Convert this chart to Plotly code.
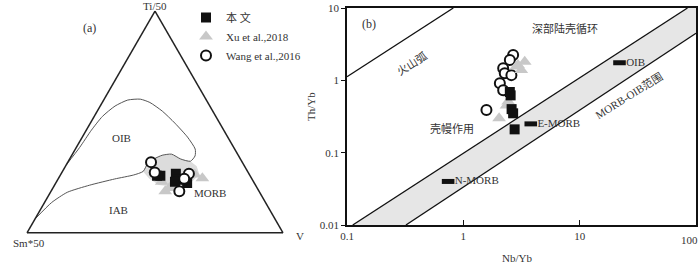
import plotly.graph_objects as go

# ---------------- Panel (a): Ti/50 - Sm*50 - V ternary ----------------
# sample compositions (fractions): Ti/50, Sm*50, V
a_sq_ti = [0.258, 0.258, 0.267, 0.239, 0.225, 0.230]
a_sq_sm = [0.350, 0.363, 0.285, 0.292, 0.262, 0.307]
a_sq_v = [0.392, 0.379, 0.448, 0.469, 0.513, 0.463]

a_tri_ti = [0.246, 0.188, 0.202, 0.230, 0.244, 0.263, 0.216]
a_tri_sm = [0.192, 0.366, 0.343, 0.359, 0.267, 0.213, 0.322]
a_tri_v = [0.562, 0.446, 0.455, 0.411, 0.489, 0.524, 0.462]

a_cir_ti = [0.319, 0.272, 0.267, 0.244, 0.188]
a_cir_sm = [0.356, 0.365, 0.234, 0.264, 0.311]
a_cir_v = [0.325, 0.363, 0.499, 0.492, 0.501]

# field boundary: OIB loop -> MORB top -> OIB/IAB line
bd_ti = [0.305, 0.385, 0.463, 0.525, 0.572, 0.599, 0.603, 0.588, 0.549, 0.495, 0.432, 0.378,
         0.347, 0.323, 0.333, 0.355, 0.350, 0.334, 0.315, 0.277, 0.261, 0.243, 0.215, 0.183,
         0.137, 0.062]
bd_sm = [0.695, 0.602, 0.517, 0.443, 0.370, 0.307, 0.256, 0.226, 0.197, 0.175, 0.157, 0.154,
         0.170, 0.200, 0.233, 0.258, 0.297, 0.336, 0.370, 0.408, 0.453, 0.536, 0.648, 0.751,
         0.835, 0.938]
bd_v = [0.000, 0.013, 0.020, 0.032, 0.058, 0.094, 0.141, 0.186, 0.254, 0.330, 0.411, 0.468,
        0.483, 0.477, 0.434, 0.387, 0.353, 0.330, 0.315, 0.315, 0.286, 0.221, 0.137, 0.066,
        0.028, 0.000]

# MORB field (grey)
morb_ti = [0.277, 0.315, 0.334, 0.350, 0.355, 0.333, 0.323, 0.300, 0.263, 0.230, 0.207, 0.216, 0.244]
morb_sm = [0.408, 0.370, 0.336, 0.297, 0.258, 0.233, 0.200, 0.187, 0.195, 0.241, 0.315, 0.377, 0.400]
morb_v = [0.315, 0.315, 0.330, 0.353, 0.387, 0.434, 0.477, 0.513, 0.542, 0.529, 0.478, 0.407, 0.356]

# ---------------- Panel (b): Th/Yb vs Nb/Yb ----------------
arc_nb = [0.1, 0.82]
arc_th = [1.12, 10]
upper_nb = [0.112, 84.5]
upper_th = [0.01, 10]
lower_nb = [0.321, 100]
lower_th = [0.01, 4.47]
x_max, y_max = 100, 10

ref_names = ["OIB", "E-MORB", "N-MORB"]
ref_nb = [22, 3.8, 0.74]
ref_th = [1.75, 0.25, 0.040]

b_sq_nb = [2.51, 2.55, 2.60, 2.68, 2.76]
b_sq_th = [0.69, 0.62, 0.40, 0.35, 0.21]
b_tri_nb = [3.37, 2.95, 3.15, 2.85, 2.43, 2.35, 2.03]
b_tri_th = [1.81, 1.63, 1.39, 1.55, 0.51, 0.45, 0.30]
b_cir_nb = [2.68, 2.51, 2.20, 2.27, 2.59, 2.06, 2.20, 1.58]
b_cir_th = [2.24, 1.91, 1.47, 1.25, 1.18, 0.91, 0.73, 0.39]

x_ticks = [0.1, 1, 10, 100]
x_tick_text = ["0.1", "1", "10", ""]   # "100" drawn as an edge label below
x_last_label = "100"
y_ticks = [0.01, 0.1, 1, 10]
y_tick_text = ["0.01", "0.1", "1", "10"]

SERIF = "Liberation Serif, Noto Sans CJK SC, serif"
CJK = "Noto Sans CJK SC, Liberation Serif"
TXT = "#333333"

fig = go.Figure()

# ---- ternary traces ----
fig.add_trace(go.Scatterternary(a=morb_ti, b=morb_sm, c=morb_v, mode="lines", fill="toself",
                                fillcolor="#dcdcdc", line=dict(width=0, color="#dcdcdc"),
                                showlegend=False, hoverinfo="skip"))
fig.add_trace(go.Scatterternary(a=bd_ti, b=bd_sm, c=bd_v, mode="lines",
                                line=dict(color="#555555", width=1, shape="spline", smoothing=0.6),
                                showlegend=False, hoverinfo="skip"))
fig.add_trace(go.Scatterternary(a=a_tri_ti, b=a_tri_sm, c=a_tri_v, mode="markers", name="Xu et al.,2018",
                                marker=dict(symbol="triangle-up", size=12, color="#c8c8c8"),
                                legendrank=2))
fig.add_trace(go.Scatterternary(a=a_sq_ti, b=a_sq_sm, c=a_sq_v, mode="markers", name="本 文",
                                marker=dict(symbol="square", size=10, color="#111111"),
                                legendrank=1))
fig.add_trace(go.Scatterternary(a=a_cir_ti, b=a_cir_sm, c=a_cir_v, mode="markers", name="Wang et al.,2016",
                                marker=dict(symbol="circle", size=10, color="white",
                                            line=dict(color="#111111", width=2)),
                                legendrank=3))

# ---- panel (b) traces ----
fig.add_trace(go.Scatter(x=upper_nb + [x_max] + lower_nb[::-1],
                         y=upper_th + [y_max] + lower_th[::-1],
                         mode="lines", fill="toself", fillcolor="#e6e6e6",
                         line=dict(width=0, color="#e6e6e6"), showlegend=False, hoverinfo="skip"))
for xs, ys in [(arc_nb, arc_th), (upper_nb, upper_th), (lower_nb, lower_th)]:
    fig.add_trace(go.Scatter(x=xs, y=ys, mode="lines", line=dict(color="#111111", width=1.3),
                             showlegend=False, hoverinfo="skip"))
fig.add_trace(go.Scatter(x=ref_nb, y=ref_th, mode="markers+text", text=ref_names,
                         textposition="middle right",
                         textfont=dict(family=SERIF, size=11, color=TXT),
                         marker=dict(symbol="line-ew", size=9, line=dict(color="#111111", width=5)),
                         showlegend=False, hoverinfo="skip"))
fig.add_trace(go.Scatter(x=b_cir_nb, y=b_cir_th, mode="markers",
                         marker=dict(symbol="circle", size=10, color="white",
                                     line=dict(color="#111111", width=2)), showlegend=False))
fig.add_trace(go.Scatter(x=b_tri_nb, y=b_tri_th, mode="markers",
                         marker=dict(symbol="triangle-up", size=12, color="#c8c8c8"), showlegend=False))
fig.add_trace(go.Scatter(x=b_sq_nb, y=b_sq_th, mode="markers",
                         marker=dict(symbol="square", size=10, color="#111111"), showlegend=False))

W, H = 700, 267


def px(X, Y):
    return X / W, 1 - Y / H


ann = []


def add_text(t, X, Y, size=11, angle=0, family=SERIF, xanchor="center"):
    x, y = px(X, Y)
    ann.append(dict(text=t, x=x, y=y, xref="paper", yref="paper", showarrow=False,
                    xanchor=xanchor, yanchor="middle", textangle=angle,
                    font=dict(family=family, size=size, color=TXT)))


add_text("(a)", 90, 28, 12)
add_text("Ti/50", 155, 6, 11)
add_text("Sm*50", 29, 243, 11)
add_text("V", 300, 236, 11)
add_text("OIB", 121, 138, 11)
add_text("IAB", 118, 210, 11)
add_text("MORB", 210, 193, 11)
add_text("(b)", 369, 24, 12)
add_text("深部陆壳循环", 565, 28, 11, family=CJK)
add_text("火山弧", 411, 63, 11, angle=-32, family=CJK)
add_text("MORB-OIB范围", 628, 95, 11, angle=-32)
add_text("壳幔作用", 452, 128, 11, family=CJK)
add_text("Th/Yb", 311, 107, 11, angle=-90)
add_text("Nb/Yb", 517, 258, 11)
add_text(x_last_label, 700, 240, 11, xanchor="right")

tern_axis = dict(showline=True, linecolor="#222222", linewidth=1.5, showgrid=False,
                 ticks="", showticklabels=False, title=dict(text=""))

fig.update_layout(
    width=W, height=H,
    margin=dict(l=0, r=0, t=0, b=0, autoexpand=False),
    paper_bgcolor="white", plot_bgcolor="white",
    font=dict(family=SERIF, size=11, color=TXT),
    ternary=dict(sum=1, bgcolor="white",
                 domain=dict(x=[27 / W, 283 / W], y=[1 - 235 / H, 1 - 9 / H]),
                 aaxis=tern_axis, baxis=tern_axis, caxis=tern_axis),
    xaxis=dict(type="log", range=[-1, 2], domain=[347 / W, 696 / W], tickvals=x_ticks,
               ticktext=x_tick_text, ticks="inside", ticklen=5, tickcolor="#111111",
               ticklabeloverflow="allow", automargin=False,
               showline=True, mirror=True, linecolor="#111111", linewidth=1.5,
               showgrid=False, zeroline=False, tickfont=dict(family=SERIF, size=11, color=TXT)),
    yaxis=dict(type="log", range=[-2, 1], domain=[1 - 225 / H, 1 - 8 / H], tickvals=y_ticks,
               ticktext=y_tick_text, ticks="outside", ticklen=4, tickcolor="#111111",
               ticklabeloverflow="allow", automargin=False,
               showline=True, mirror=True, linecolor="#111111", linewidth=1.5,
               showgrid=False, zeroline=False, tickfont=dict(family=SERIF, size=11, color=TXT)),
    legend=dict(x=186 / W, y=1 - 3 / H, xanchor="left", yanchor="top", bgcolor="rgba(0,0,0,0)",
                font=dict(family=SERIF, size=11, color=TXT), tracegroupgap=0),
    annotations=ann,
    showlegend=True,
)

fig.write_html("out.html", config={"displayModeBar": False},
               post_script="document.body.style.margin='0';document.body.style.overflow='hidden';")
